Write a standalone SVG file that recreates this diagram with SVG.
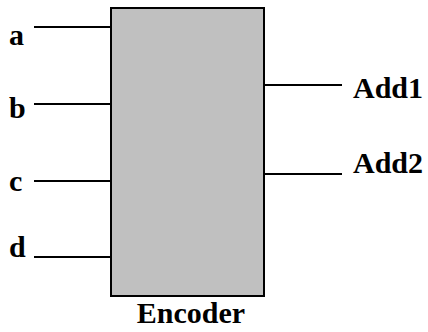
<svg xmlns="http://www.w3.org/2000/svg" width="428" height="332" viewBox="0 0 428 332">
  <style>
    .lbl { font-family: "Liberation Serif", "Times New Roman", serif; font-weight: bold; font-size: 30px; fill: #000; }
    .wire { stroke: #000; stroke-width: 2; fill: none; }
    .box { fill: #c0c0c0; stroke: #000; stroke-width: 2; }
  </style>
  <rect width="428" height="332" fill="#fff"/>
  <g id="encoder">
    <rect class="box" x="111" y="8" width="153" height="288"/>
    <text class="lbl" x="191" y="323" text-anchor="middle">Encoder</text>
  </g>
  <g id="in-a"><text class="lbl" x="9" y="45">a</text></g>
  <g id="in-b"><text class="lbl" x="9" y="118">b</text></g>
  <g id="in-c"><text class="lbl" x="9" y="191">c</text></g>
  <g id="in-d"><text class="lbl" x="9" y="257">d</text></g>
  <g id="out-add1"><text class="lbl" x="353" y="98">Add1</text></g>
  <g id="out-add2"><text class="lbl" x="353" y="173">Add2</text></g>
  <g id="connectors">
    <line class="wire" x1="34" y1="27" x2="111" y2="27"/>
    <line class="wire" x1="34" y1="104" x2="111" y2="104"/>
    <line class="wire" x1="34" y1="181" x2="111" y2="181"/>
    <line class="wire" x1="34" y1="257" x2="111" y2="257"/>
    <line class="wire" x1="264" y1="85" x2="342" y2="85"/>
    <line class="wire" x1="264" y1="174" x2="342" y2="174"/>
  </g>
</svg>
